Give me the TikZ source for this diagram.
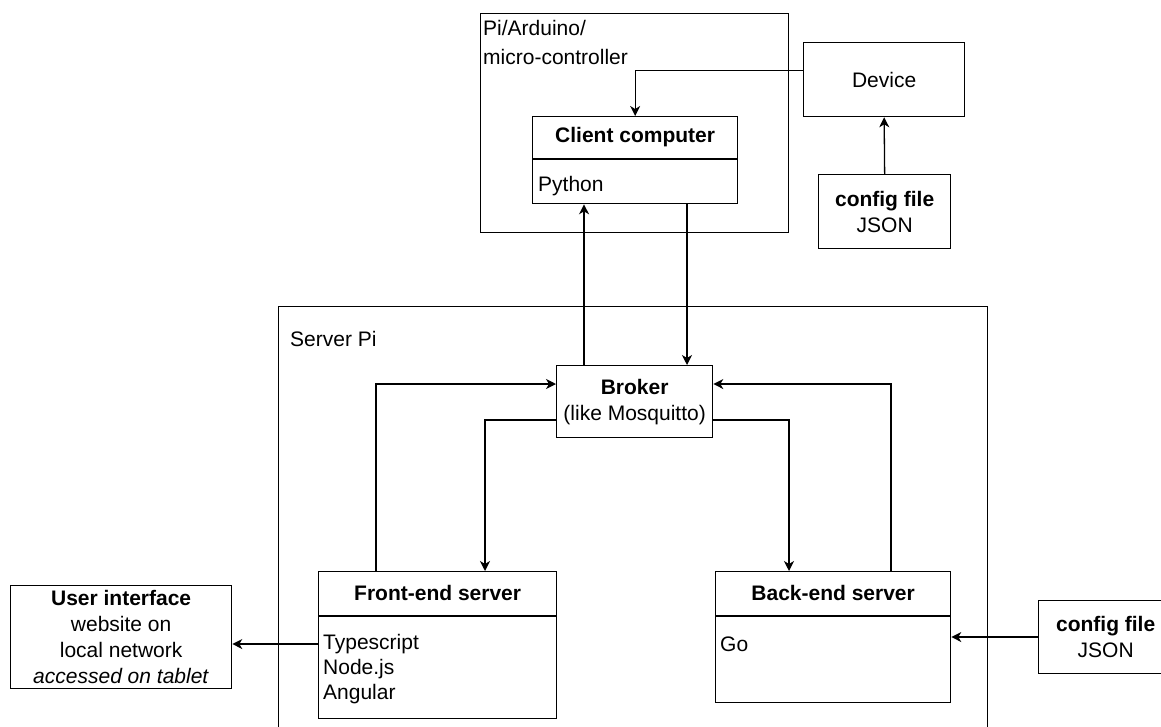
\documentclass[tikz,border=0pt]{standalone}
\usepackage{fontspec}
\setmainfont{Liberation Sans}
\usetikzlibrary{arrows.meta,calc}
\begin{document}
\begin{tikzpicture}[x=1pt,y=-1pt,
  every node/.style={font=\fontsize{21}{26}\selectfont, inner sep=0pt},
  box/.style={draw, line width=1.3pt, rectangle, anchor=north west, inner sep=0pt},
  arr/.style={line width=1.3pt, -{Stealth[length=10pt,width=10pt,inset=3pt]}},
  con/.style={line width=1.3pt},
  lab/.style={anchor=west},
  hd/.style={font=\fontsize{21}{26}\selectfont\bfseries}]
\clip (0,0) rectangle (1161,726);
\fill[white] (0,0) rectangle (1161,726);
% Pi box
\node[box, minimum width=308pt, minimum height=219pt] (pi) at (480,13) {};
\node[lab] (pilab1) at (483,28) {Pi/Arduino/};
\node[lab] (pilab2) at (483,57) {micro-controller};
% Device
\node[box, minimum width=161pt, minimum height=74pt] (dev) at (803,42) {Device};
% Client computer
\node[box, minimum width=205pt, minimum height=87pt] (client) at (532,116) {};
\draw[con] ($(client.north west)+(0,43)$) -- ($(client.north east)+(0,43)$);
\node[hd] (clientT) at ($(client.north)+(0,21.5)$) {Client computer};
\node[lab] (clientB) at (538,186) {Python};
% config file top
\node[box, minimum width=132pt, minimum height=74pt, align=center] (cfg1) at (818,174) {\textbf{config file}\\JSON};
% Server Pi
\node[box, minimum width=709pt, minimum height=460pt] (srv) at (278,306) {};
\node[lab] (srvlab) at (290,339) {Server Pi};
% Broker
\node[box, minimum width=156pt, minimum height=72pt, align=center] (broker) at (556,365) {\textbf{Broker}\\(like Mosquitto)};
% Front-end
\node[box, minimum width=238pt, minimum height=147pt] (fe) at (318,571) {};
\draw[con] ($(fe.north west)+(0,45)$) -- ($(fe.north east)+(0,45)$);
\node[hd] (feT) at ($(fe.north)+(0,22)$) {Front-end server};
\node[lab] (fe1) at (323,644) {Typescript};
\node[lab] (fe2) at (323,669) {Node.js};
\node[lab] (fe3) at (323,694) {Angular};
% Back-end
\node[box, minimum width=235pt, minimum height=131pt] (be) at (715,571) {};
\draw[con] ($(be.north west)+(0,45)$) -- ($(be.north east)+(0,45)$);
\node[hd] (beT) at ($(be.north)+(0,22)$) {Back-end server};
\node[lab] (be1) at (720,644) {Go};
% User interface
\node[box, minimum width=221pt, minimum height=103pt, align=center] (ui) at (10,585) {\textbf{User interface}\\website on\\local network\\\textit{accessed on tablet}};
% config file bottom
\node[box, minimum width=134pt, minimum height=73pt, align=center] (cfg2) at (1038,600) {\textbf{config file}\\JSON};
% helper coordinates
\coordinate (xup) at (584,0);
\coordinate (xdn) at (687,0);
\coordinate (fl) at (376,384);
\coordinate (fr) at (891,384);
\coordinate (bl) at (485,420);
\coordinate (br) at (789,420);
\coordinate (uiy) at (0,644);
\coordinate (cy) at (0,637);
% connectors
\draw[arr] ($(dev.west)+(0,-9)$) -| (client.north);
\draw[arr] (cfg1.north) -- (dev.south);
\draw[arr] (broker.north -| xup) -- (client.south -| xup);
\draw[arr] (client.south -| xdn) -- (broker.north -| xdn);
\draw[arr] (fe.north -| fl) |- (broker.west |- fl);
\draw[arr] (be.north -| fr) |- (broker.east |- fr);
\draw[arr] (broker.west |- bl) -| (fe.north -| bl);
\draw[arr] (broker.east |- br) -| (be.north -| br);
\draw[arr] (fe.west |- uiy) -- (ui.east |- uiy);
\draw[arr] (cfg2.west |- cy) -- (be.east |- cy);
\end{tikzpicture}
\end{document}
